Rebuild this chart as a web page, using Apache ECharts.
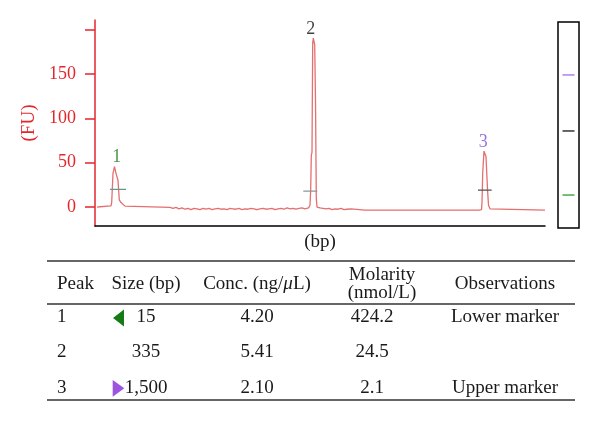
<!DOCTYPE html>
<html><head><meta charset="utf-8">
<script src="https://cdn.jsdelivr.net/npm/echarts@6/dist/echarts.min.js"></script>
<style>html,body{margin:0;padding:0;background:#fff}#c{width:600px;height:421px}</style>
</head><body><div id="c"></div>
<script>
// ---- electropherogram trace (x: migration units, y: FU) ----
const traceX = [2,5,6,16,16.7,18,19.5,20.5,21,22.3,23,24.3,26,28,30,32,75,
  78,81,84,87,90,93,96,99,102,105,108,111,114,117,120,123,126,129,132,135,138,141,144,147,150,
  153,156,159,162,165,168,171,174,177,180,183,186,189,192,195,198,201,204,207,210,212,
  213.5,214.3,215,215.7,216.3,217,217.7,218.3,219,219.7,220.5,221.3,222,
  225,228,231,234,237,240,243,246,249,252,254,256,270,270.7,271.5,384,
  385.5,386.5,387,387.7,388.3,389,390,391,391.7,392.5,393.5,395,450];
const traceFU = [0,0.3,1.2,1.2,5,38,45.5,44,38,37,30,8,5,4,1,-0.3,-0.3,
  -1.5,-0.5,-2,-1,-2.5,-1.5,-3,-1.5,-2,-3,-1.5,-2.5,-1.5,-3,-2,-1.5,-2.5,-2,-3,-1.5,-2,-2.5,-1.5,-3,-2,
  -2.5,-1.5,-2,-3,-2,-1.5,-2.5,-2,-1.5,-3,-2,-1.5,-2.5,-1,-2,-1.5,-2.5,-1.5,-1,-2,-1.5,-1,
  -1,2,20,58,62,185,190.5,189,183,120,10,0,-1,
  -1.5,-2,-1.5,-3,-2,-2.5,-1.5,-3,-2.5,-3,-2,-3.4,-3.4,-1.5,-3.4,-3.4,
  -3,5,38,40,63,61,57,55,20,2,-2,-3.4,-3.4];
const yTickValues = [0, 50, 100, 150, 200];
const yLabelValues = [0, 50, 100, 150];

// ---- peaks ----
const peakNames = ['1', '2', '3'];
const peakLabelX = [21.7, 215.7, 388.3];
const peakTopFU = [45.5, 190.5, 63];
const peakMarkStart = [15, 208.3, 383];
const peakMarkEnd = [31, 222.3, 396.7];
const peakMarkFU = [20, 18, 19];

// ---- gel lane band positions (relative migration 0-100, bottom to top) ----
const gelBandPos = [16.0, 47.1, 74.3];

// ---- table ----
const tableHeader = ['Peak', 'Size (bp)', 'Conc. (ng/{i|μ}L)', 'Molarity\n(nmol/L)', 'Observations'];
const tablePeak = ['1', '2', '3'];
const tableSize = ['15', '335', '1,500'];
const tableConc = ['4.20', '5.41', '2.10'];
const tableMolarity = ['424.2', '24.5', '2.1'];
const tableObs = ['Lower marker', '', 'Upper marker'];

// ---- styles ----
const RED = '#e3262c';
const TRACE = '#e46f6f';
const peakColors = ['#1b7a1b', '#111111', '#7a4fd6'];
const markColors = ['#5f9a8c', '#8b9696', '#4d5555'];
const bandColors = ['#2b9a2b', '#111111', '#9b6bf0'];
const SERIF = 'Liberation Serif';

const chart = echarts.init(document.getElementById('c'), null, {renderer: 'canvas'});

const series = [];
series.push({
  type: 'line', xAxisIndex: 0, yAxisIndex: 0,
  data: traceX.map((x, i) => [x, traceFU[i]]),
  showSymbol: false, silent: true,
  lineStyle: {color: TRACE, width: 1.3}, z: 3
});
peakNames.forEach((n, i) => {
  series.push({
    type: 'line', xAxisIndex: 0, yAxisIndex: 0,
    data: [[peakMarkStart[i], peakMarkFU[i]], [peakMarkEnd[i], peakMarkFU[i]]],
    showSymbol: false, silent: true,
    lineStyle: {color: markColors[i], width: 1.3}, z: 4
  });
});
series.push({
  type: 'scatter', xAxisIndex: 0, yAxisIndex: 0,
  symbolSize: 0, silent: true,
  data: peakNames.map((n, i) => ({
    value: [peakLabelX[i], peakTopFU[i]], name: n,
    label: {color: peakColors[i]}
  })),
  label: {show: true, position: 'top', distance: 0, formatter: p => p.name,
    fontFamily: SERIF, fontSize: 18}
});
series.push({
  type: 'scatter', xAxisIndex: 1, yAxisIndex: 1,
  symbol: 'rect', symbolSize: [12, 1.6], silent: true,
  data: gelBandPos.map((v, i) => ({value: [0.5, v], itemStyle: {color: bandColors[i]}}))
});

// table graphics
const colX = [57, 146, 257, 382, 505];
const colAlign = ['left', 'center', 'center', 'center', 'center'];
const rowY = [317, 352, 388];
const molX = 372;
const g = [];
const tStyle = (text, x, y, align) => ({
  type: 'text', silent: true,
  style: {text, x, y, align, verticalAlign: 'middle', fontSize: 19, fontFamily: SERIF,
    fill: '#1a1a1a', lineHeight: 18,
    rich: {i: {fontStyle: 'italic', fontSize: 19, fontFamily: SERIF, fill: '#1a1a1a'}}}
});
[261, 304, 400].forEach(y => g.push({type: 'line', silent: true,
  shape: {x1: 47, y1: y, x2: 575, y2: y}, style: {stroke: '#333', lineWidth: 1.6}}));
tableHeader.forEach((h, j) => g.push(tStyle(h, colX[j], 284, colAlign[j])));
tablePeak.forEach((p, i) => {
  g.push(tStyle(p, colX[0], rowY[i], 'left'));
  g.push(tStyle(tableSize[i], colX[1], rowY[i], 'center'));
  g.push(tStyle(tableConc[i], colX[2], rowY[i], 'center'));
  g.push(tStyle(tableMolarity[i], molX, rowY[i], 'center'));
  if (tableObs[i]) g.push(tStyle(tableObs[i], colX[4], rowY[i], 'center'));
});
g.push({type: 'polygon', silent: true, shape: {points: [[124, 309.5], [113, 318], [124, 326.5]]},
  style: {fill: '#167a16'}});
g.push({type: 'polygon', silent: true, shape: {points: [[112.7, 380], [124.3, 388.3], [112.7, 396.7]]},
  style: {fill: '#9b55e0'}});

chart.setOption({
  animation: false,
  backgroundColor: '#fff',
  grid: [
    {left: 95, right: 55, top: 20, bottom: 195, containLabel: false},
    {left: 558, top: 22, width: 21, height: 206, show: true, borderColor: '#000', borderWidth: 1.5, backgroundColor: 'transparent'}
  ],
  xAxis: [
    {type: 'value', gridIndex: 0, min: 0, max: 450,
      axisLine: {show: true, onZero: false, lineStyle: {color: '#000', width: 1.5}},
      axisTick: {show: false}, axisLabel: {show: false}, splitLine: {show: false},
      name: '(bp)', nameLocation: 'middle', nameGap: 7,
      nameTextStyle: {color: '#1a1a1a', fontFamily: SERIF, fontSize: 19, verticalAlign: 'top'}},
    {type: 'value', gridIndex: 1, min: 0, max: 1, show: false}
  ],
  yAxis: [
    {type: 'value', gridIndex: 0, min: -21.4, max: 210.9,
      axisLine: {show: true, lineStyle: {color: RED, width: 1.5}},
      axisTick: {show: true, length: 10, customValues: yTickValues, lineStyle: {color: RED, width: 1.5}},
      axisLabel: {show: true, customValues: yLabelValues, color: RED, fontFamily: SERIF, fontSize: 18, margin: 19},
      splitLine: {show: false},
      name: '(FU)', nameLocation: 'middle', nameGap: 54,
      nameTextStyle: {color: RED, fontFamily: SERIF, fontSize: 19}},
    {type: 'value', gridIndex: 1, min: 0, max: 100, show: false}
  ],
  series,
  graphic: g
});
</script></body></html>
